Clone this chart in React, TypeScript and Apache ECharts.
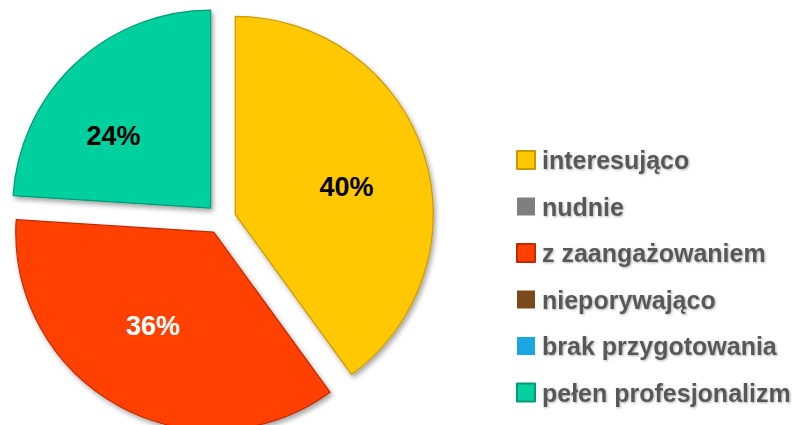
import React, { useEffect, useRef } from "react";
import * as echarts from "echarts";

const categories = [
  "interesująco",
  "nudnie",
  "z zaangażowaniem",
  "nieporywająco",
  "brak przygotowania",
  "pełen profesjonalizm",
];
const percentValues = [40, 0, 36, 0, 0, 24];
const sliceColors = ["#FFC800", "#7F7F7F", "#FF4000", "#7A4A1A", "#1AA6E0", "#06D09E"];
const edgeColors = ["#C99A00", "#555555", "#C22A00", "#4F2F0F", "#0F7AA8", "#049A74"];
const labelColors = ["#000000", "#000000", "#FFFFFF", "#000000", "#000000", "#000000"];

// small label nudges (style only)
const labelNudgeX = [-3, 0, -3, 0, 0, -15];
const labelNudgeY = [10, 0, -11, 0, 0, 15];

export default function App() {
  const ref = useRef<HTMLDivElement>(null);
  useEffect(() => {
    if (!ref.current) return;
    const chart = echarts.init(ref.current, null, { renderer: "svg" });
    const mainData = categories.map((name, i) => ({
      name,
      value: percentValues[i],
      selected: true,
      itemStyle: {
        color: sliceColors[i],
        borderColor: edgeColors[i],
        borderWidth: percentValues[i] > 0 ? 1.2 : 0,
        shadowBlur: percentValues[i] > 0 ? 5 : 0,
        shadowOffsetX: 2,
        shadowOffsetY: 3,
        shadowColor: "rgba(0,0,0,0.35)",
      },
    }));
    const labelData = categories.map((name, i) => ({
      name,
      value: percentValues[i],
      selected: true,
      label: { color: labelColors[i] },
    }));
    chart.setOption({
      animation: false,
      legend: {
        orient: "vertical",
        left: 516,
        top: 146,
        padding: 0,
        itemWidth: 18,
        itemHeight: 18,
        itemGap: 18.5,
        icon: "rect",
        data: categories,
        selectedMode: false,
        textStyle: {
          fontFamily: "'Liberation Sans', Arial, sans-serif",
          fontWeight: "bold",
          fontSize: 25,
          lineHeight: 28,
          color: "#595959",
          padding: [0, 0, 0, 2],
          textShadowColor: "rgba(0,0,0,0.3)",
          textShadowBlur: 2,
          textShadowOffsetX: 1,
          textShadowOffsetY: 1,
        },
      },
      series: [
        {
          type: "pie",
          center: [221, 219],
          radius: [0, 198],
          startAngle: 90,
          clockwise: true,
          selectedMode: "multiple",
          selectedOffset: 15,
          avoidLabelOverlap: false,
          silent: true,
          label: { show: false },
          labelLine: { show: false },
          emphasis: { disabled: true },
          data: mainData,
        },
        {
          type: "pie",
          center: [221, 219],
          radius: [36, 198],
          startAngle: 90,
          clockwise: true,
          selectedMode: "multiple",
          selectedOffset: 15,
          avoidLabelOverlap: false,
          silent: true,
          itemStyle: { color: "transparent", borderWidth: 0 },
          label: {
            show: true,
            position: "inside",
            fontFamily: "'Liberation Sans', Arial, sans-serif",
            fontWeight: "bold",
            fontSize: 27,
            formatter: (p: any) => (p.value > 0 ? p.value + "%" : ""),
          },
          labelLayout: (p: any) => ({
            dx: labelNudgeX[p.dataIndex] || 0,
            dy: labelNudgeY[p.dataIndex] || 0,
          }),
          labelLine: { show: false },
          emphasis: { disabled: true },
          data: labelData,
        },
      ],
    });
    return () => chart.dispose();
  }, []);
  return (
    <div
      ref={ref}
      style={{ position: "fixed", left: 0, top: 0, width: 795, height: 425, background: "#fff" }}
    />
  );
}
